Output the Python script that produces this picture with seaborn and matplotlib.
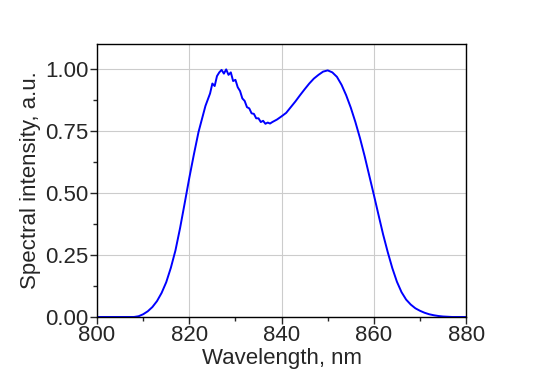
import numpy as np
import pandas as pd
import matplotlib
matplotlib.use('Agg')
import matplotlib.pyplot as plt
import seaborn as sns
from matplotlib.ticker import MultipleLocator

# spectrum
WL_LEFT = list(range(800, 823))
VAL_LEFT = [0, 0, 0, 0, 0, 0, 0, 0, 0, 0.003, 0.011, 0.023, 0.040, 0.064, 0.097,
            0.140, 0.198, 0.268, 0.358, 0.458, 0.560, 0.655, 0.745]

WL_PEAK = list(np.arange(823, 838, 0.5))
VAL_PEAK = [0.815, 0.850, 0.875, 0.900, 0.940, 0.930, 0.970, 0.985, 0.995, 0.980,
            0.997, 0.975, 0.985, 0.950, 0.955, 0.925, 0.910, 0.880, 0.870, 0.845,
            0.840, 0.820, 0.818, 0.800, 0.800, 0.785, 0.790, 0.778, 0.783, 0.779]

WL_RIGHT = list(range(838, 881))
VAL_RIGHT = [0.785, 0.795, 0.808, 0.822, 0.845, 0.868, 0.893, 0.917, 0.940, 0.960,
             0.975, 0.988, 0.993, 0.985, 0.967, 0.935, 0.893, 0.843, 0.785, 0.720,
             0.648, 0.570, 0.492, 0.412, 0.333, 0.262, 0.197, 0.142, 0.100, 0.070,
             0.050, 0.035, 0.025, 0.017, 0.011, 0.007, 0.004, 0.002, 0.001, 0, 0, 0, 0]

X_TICKS = [800, 820, 840, 860, 880]
Y_TICKS = [0.00, 0.25, 0.50, 0.75, 1.00]

df = pd.DataFrame({
    'wavelength': WL_LEFT + WL_PEAK + WL_RIGHT,
    'intensity': VAL_LEFT + VAL_PEAK + VAL_RIGHT,
})

sns.set_style('ticks')
plt.rcParams['font.family'] = ['Liberation Sans', 'DejaVu Sans']

fig = plt.figure(figsize=(5.42, 3.81), dpi=100)
ax = fig.add_axes([0.179, 0.168, 0.681, 0.717])

sns.lineplot(data=df, x='wavelength', y='intensity', color='#0000ff',
             linewidth=1.4, ax=ax)

ax.set_xlim(800, 880)
ax.set_ylim(0, 1.1)
ax.set_xticks(X_TICKS)
ax.set_yticks(Y_TICKS)
ax.set_yticklabels([f'{v:.2f}' for v in Y_TICKS])
ax.xaxis.set_minor_locator(MultipleLocator(10))
ax.yaxis.set_minor_locator(MultipleLocator(0.125))
ax.tick_params(which='major', direction='out', length=5, width=1, labelsize=16, pad=1)
ax.tick_params(which='minor', direction='out', length=3, width=1)
ax.grid(True, which='major', color='#cccccc', linewidth=0.8)
ax.set_axisbelow(True)
for s in ax.spines.values():
    s.set_visible(True)
    s.set_color('black')
    s.set_linewidth(1)

ax.set_xlabel('Wavelength, nm', fontsize=16, labelpad=1)
ax.set_ylabel('Spectral intensity, a.u.', fontsize=16, labelpad=3)

fig.savefig('out.png', dpi=100)
